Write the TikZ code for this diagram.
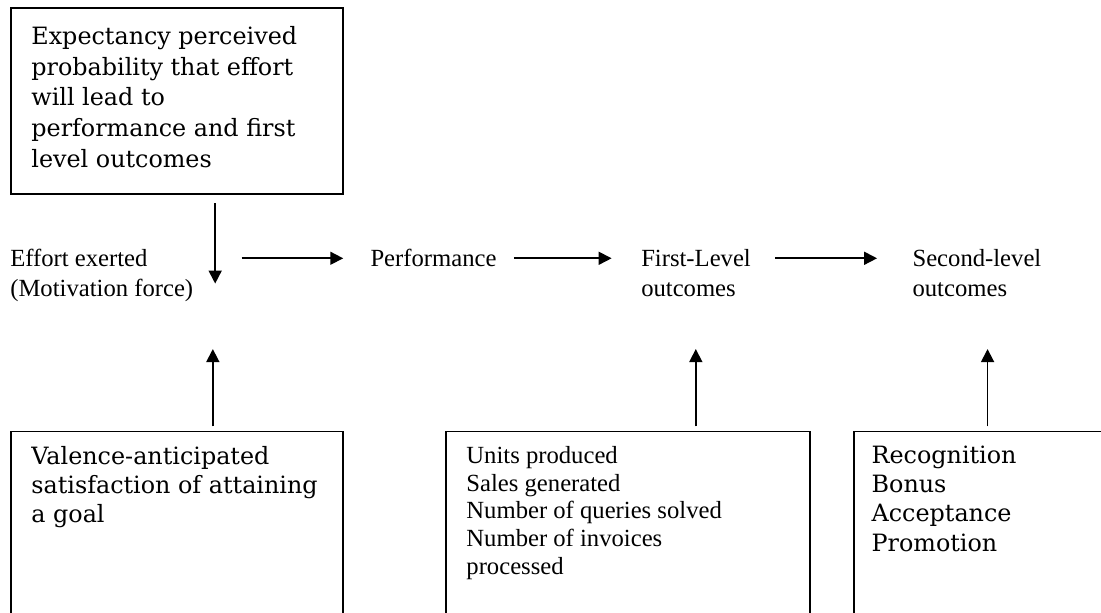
\documentclass[tikz,border=0pt]{standalone}
\usepackage{fontspec}
\setmainfont{Liberation Serif}
\newfontfamily\bookface{DejaVu Serif}
\usetikzlibrary{arrows.meta, positioning}

\begin{document}
\begin{tikzpicture}[
        x=1cm,
        y=1cm,
        >={Triangle[length=6.3pt, width=6.3pt]},
        font=\fontsize{12}{14.6}\selectfont,
        frame/.style={rectangle, draw=black, line width=0.9pt, inner sep=0pt},
        caption/.style={anchor=north west, inner sep=0pt, align=left,
                        font=\fontsize{12}{14.6}\selectfont},
        listcap/.style={caption, font=\fontsize{12}{13.6}\selectfont},
        bookcap/.style={caption, font=\bookface\fontsize{11.6}{15}\selectfont},
        booklist/.style={caption, font=\bookface\fontsize{11.6}{14.2}\selectfont},
        arrow/.style={->, draw=black, line width=0.8pt}
    ]

    \useasboundingbox (0,0) rectangle (18.83,10.48);

    % Expectancy box
    \node[frame, minimum width=5.68cm, minimum height=3.18cm] (expbox) at (3.03, 8.75) {};
    \node[bookcap] (exptext) at (0.53, 10.04) {Expectancy perceived\\ probability that effort\\ will lead to\\ performance and first\\ level outcomes};

    % Main row
    \node[caption] (effort) at ( 0.17, 6.22) {Effort exerted\\ (Motivation force)};
    \node[caption] (perf)   at ( 6.33, 6.22) {Performance};
    \node[caption] (first)  at (10.96, 6.22) {First-Level\\ outcomes};
    \node[caption] (second) at (15.60, 6.22) {Second-level\\ outcomes};

    % Lower boxes
    \node[frame, minimum width=5.68cm, minimum height=3.5cm] (valbox)    at ( 3.03, 1.35) {};
    \node[frame, minimum width=6.22cm, minimum height=3.5cm] (unitbox)   at (10.74, 1.35) {};
    \node[frame, minimum width=4.55cm, minimum height=3.5cm] (rewardbox) at (16.88, 1.35) {};
    \node[booklist] (valtext)    at ( 0.53, 2.86) {Valence-anticipated\\ satisfaction of attaining\\ a goal};
    \node[listcap]  (unittext)   at ( 7.97, 2.86) {Units produced\\ Sales generated\\ Number of queries solved\\ Number of invoices\\ processed};
    \node[booklist] (rewardtext) at (14.90, 2.86) {Recognition\\ Bonus\\ Acceptance\\ Promotion};

    % Arrow ends
    \coordinate (efftip)    at ( 3.68, 5.63);
    \coordinate (valtip)    at ( 3.64, 4.51);
    \coordinate (unittip)   at (11.90, 4.51);
    \coordinate (rewardtip) at (16.89, 4.51);

    % Chain
    \draw[arrow, shorten <=0.14cm] (expbox.south -| efftip) -- (efftip);
    \draw[arrow, shorten <=0.82cm, shorten >=0.46cm] (effort.east |- perf.west) -- (perf.west);
    \draw[arrow, shorten <=0.29cm, shorten >=0.50cm] (perf.east) -- (perf.east -| first.west);
    \draw[arrow, shorten <=0.41cm, shorten >=0.60cm] (perf.east -| first.east) -- (perf.east -| second.west);

    % Inputs from below
    \draw[arrow, shorten <=0.07cm] (valbox.north -| valtip) -- (valtip);
    \draw[arrow, shorten <=0.07cm] (unitbox.north -| unittip) -- (unittip);
    \draw[arrow, shorten <=0.07cm] (rewardbox.north -| rewardtip) -- (rewardtip);

\end{tikzpicture}
\end{document}
